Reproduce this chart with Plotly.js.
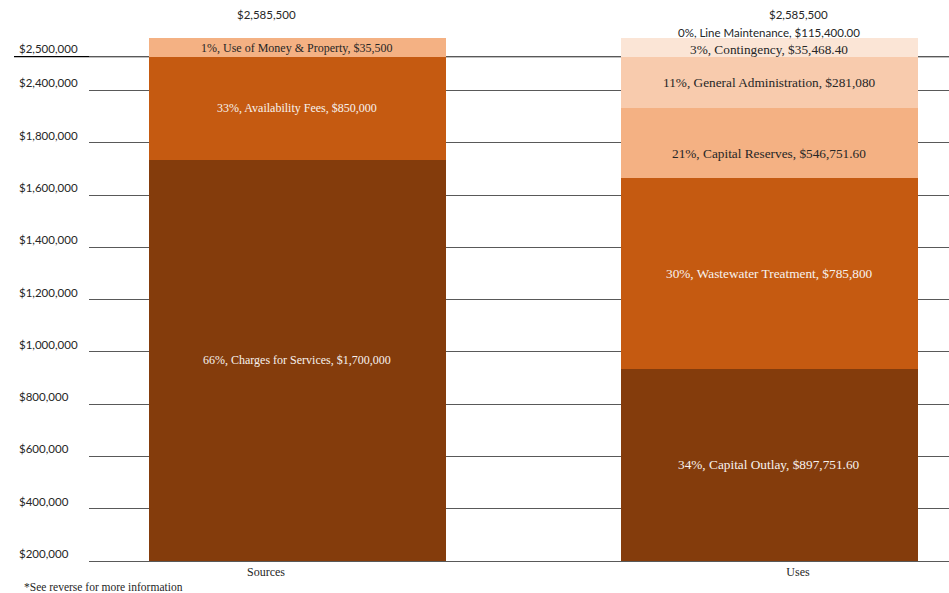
<!DOCTYPE html>
<html><head><meta charset="utf-8">
<script src="https://cdn.plot.ly/plotly-3.0.1.min.js"></script>
<style>html,body{margin:0;padding:0;background:#fff}#chart{width:949px;height:593px}</style>
</head><body><div id="chart"></div>
<script>
// ---- data ----
const categories = ['Sources', 'Uses'];
// visible segment heights (bottom to top) measured against the axis
const sourceHeights = [1735000, 395000, 70000];
const useHeights = [935000, 730000, 268000, 197000, 70000, 0];
const sourceLabels = ['66%, Charges for Services, $1,700,000', '33%, Availability Fees, $850,000', '1%, Use of Money & Property, $35,500'];
const useLabels = ['34%, Capital Outlay, $897,751.60', '30%, Wastewater Treatment, $785,800', '21%, Capital Reserves, $546,751.60', '11%, General Administration, $281,080', '3%, Contingency, $35,468.40', '0%, Line Maintenance, $115,400.00'];
const totalLabels = ['$2,585,500', '$2,585,500'];
const tickValues = [200000, 400000, 600000, 800000, 1000000, 1200000, 1400000, 1600000, 1800000, 2000000, 2130000];
const tickLabels = ['$200,000', '$400,000', '$600,000', '$800,000', '$1,000,000', '$1,200,000', '$1,400,000', '$1,600,000', '$1,800,000', '$2,400,000', '$2,500,000'];
const footnote = '*See reverse for more information';

// ---- styles ----
const levelColors = ['#843C0C', '#C55A11', '#F4B183', '#F8CBAD', '#FBE5D6', '#FBE5D6'];
const textColors = ['#F7F2EE', '#F7F2EE', '#262626', '#262626', '#262626', '#262626'];
const serif = 'Liberation Serif';
const sans = 'Lato';
const barOffsets = [-0.2199, -0.3327];
const barWidth = 0.5577;
const labelShifts = [[0, 0, 0], [0, 0, -10, 0, -1.5, 0]];
const yMin = 200000;
const yMax = 200000 + 561 * 3827;

const nLevels = Math.max(sourceHeights.length, useHeights.length);
const traces = [];
for (let k = 0; k < nLevels; k++) {
  traces.push({
    type: 'bar',
    x: categories,
    y: [k < sourceHeights.length ? sourceHeights[k] : null, k < useHeights.length ? useHeights[k] : null],
    offset: barOffsets,
    width: barWidth,
    marker: {color: levelColors[k], line: {width: 0}},
    hoverinfo: 'skip',
    showlegend: false
  });
}

const annotations = [];
// y tick labels (left aligned, sitting above their grid lines)
tickValues.forEach((v, i) => {
  annotations.push({
    xref: 'paper', yref: 'y', x: -0.0837, y: v, xanchor: 'left', yanchor: 'middle',
    yshift: 7.7, text: tickLabels[i], showarrow: false,
    font: {family: sans, size: 11.5, color: '#262626'}
  });
});
// segment labels
function addSegmentLabels(ci, heights, labels, size) {
  let base = 0;
  const xc = ci + barOffsets[ci] + barWidth / 2;
  heights.forEach((h, k) => {
    const top = base + h;
    if (h > 0) {
      annotations.push({
        xref: 'x', yref: 'y', x: xc, y: (Math.max(base, yMin) + top) / 2,
        yshift: labelShifts[ci][k],
        xanchor: 'center', yanchor: 'middle', text: labels[k], showarrow: false,
        font: {family: serif, size: size, color: textColors[k]}
      });
    } else {
      annotations.push({
        xref: 'x', yref: 'y', x: xc, y: top, yshift: 6.3,
        xanchor: 'center', yanchor: 'middle', text: labels[k], showarrow: false,
        font: {family: sans, size: 11.5, color: '#262626'}
      });
    }
    base = top;
  });
  return base;
}
const srcTop = addSegmentLabels(0, sourceHeights, sourceLabels, 12);
const useTop = addSegmentLabels(1, useHeights, useLabels, 13.3);
[srcTop, useTop].forEach((t, i) => {
  annotations.push({
    xref: 'x', yref: 'y', x: i, y: t, yshift: 24, xanchor: 'center', yanchor: 'middle',
    text: totalLabels[i], showarrow: false, font: {family: sans, size: 11.5, color: '#262626'}
  });
});
annotations.push({
  xref: 'paper', yref: 'paper', x: -0.0783, y: -0.0463, xanchor: 'left', yanchor: 'middle',
  text: footnote, showarrow: false, font: {family: serif, size: 11.5, color: '#262626'}
});

const layout = {
  width: 949, height: 593,
  margin: {l: 89, r: 0, t: 0, b: 32},
  paper_bgcolor: '#ffffff', plot_bgcolor: '#ffffff',
  barmode: 'stack',
  showlegend: false,
  font: {family: sans},
  xaxis: {
    type: 'category', range: [-0.3327, 1.2838], showgrid: false, zeroline: false,
    ticks: '', showline: true, linecolor: '#595959', linewidth: 1,
    tickfont: {family: serif, size: 12, color: '#262626'}, fixedrange: true
  },
  yaxis: {
    range: [yMin, yMax], tickmode: 'array', tickvals: tickValues, showticklabels: false,
    showgrid: true, gridcolor: '#595959', gridwidth: 1, zeroline: false, showline: false,
    ticks: '', fixedrange: true
  },
  shapes: [{
    type: 'line', xref: 'paper', yref: 'y', x0: -0.0872, x1: 1,
    y0: tickValues[tickValues.length - 1], y1: tickValues[tickValues.length - 1],
    line: {color: '#000000', width: 1.3}, layer: 'below'
  }],
  annotations: annotations
};

Plotly.newPlot('chart', traces, layout, {displayModeBar: false, staticPlot: true});
</script>
</body></html>
